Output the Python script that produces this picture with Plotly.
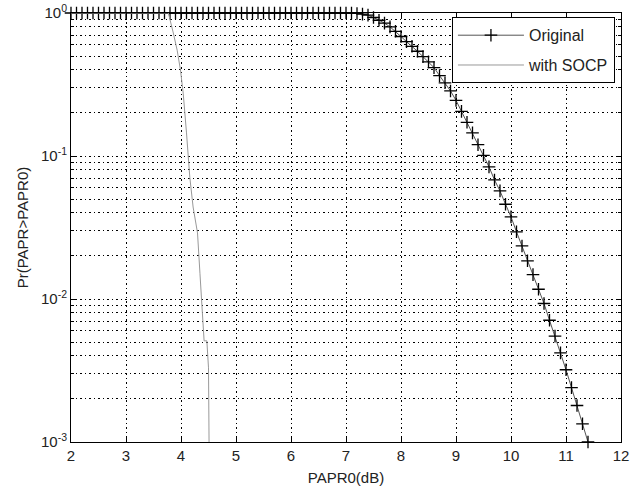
import plotly.graph_objects as go

# PAPR threshold values (dB) for the original OFDM signal (0.1 dB steps)
papr_orig = [2.0, 2.1, 2.2, 2.3, 2.4, 2.5, 2.6, 2.7, 2.8, 2.9,
             3.0, 3.1, 3.2, 3.3, 3.4, 3.5, 3.6, 3.7, 3.8, 3.9,
             4.0, 4.1, 4.2, 4.3, 4.4, 4.5, 4.6, 4.7, 4.8, 4.9,
             5.0, 5.1, 5.2, 5.3, 5.4, 5.5, 5.6, 5.7, 5.8, 5.9,
             6.0, 6.1, 6.2, 6.3, 6.4, 6.5, 6.6, 6.7, 6.8, 6.9,
             7.0, 7.1, 7.2, 7.3, 7.4, 7.5, 7.6, 7.7, 7.8, 7.9,
             8.0, 8.1, 8.2, 8.3, 8.4, 8.5, 8.6, 8.7, 8.8, 8.9,
             9.0, 9.1, 9.2, 9.3, 9.4, 9.5, 9.6, 9.7, 9.8, 9.9,
             10.0, 10.1, 10.2, 10.3, 10.4, 10.5, 10.6, 10.7, 10.8, 10.9,
             11.0, 11.1, 11.2, 11.3, 11.4]
ccdf_orig = [1.0, 1.0, 1.0, 1.0, 1.0, 1.0, 1.0, 1.0, 1.0, 1.0,
             1.0, 1.0, 1.0, 1.0, 1.0, 1.0, 1.0, 1.0, 1.0, 1.0,
             1.0, 1.0, 1.0, 1.0, 1.0, 1.0, 1.0, 1.0, 1.0, 1.0,
             1.0, 1.0, 1.0, 1.0, 1.0, 1.0, 1.0, 1.0, 1.0, 1.0,
             1.0, 1.0, 1.0, 1.0, 1.0, 1.0, 1.0, 1.0, 1.0, 1.0,
             1.0, 0.998, 0.993, 0.982, 0.967, 0.93, 0.89, 0.85, 0.80, 0.745,
             0.685, 0.63, 0.585, 0.54, 0.495, 0.455, 0.415, 0.365, 0.325, 0.285,
             0.245, 0.205, 0.172, 0.145, 0.12, 0.101, 0.084, 0.068, 0.057, 0.046,
             0.0375, 0.0295, 0.0235, 0.0185, 0.0148, 0.0117, 0.0093, 0.0071, 0.0055, 0.0042,
             0.0032, 0.0024, 0.0018, 0.00134, 0.001]

# PAPR threshold values (dB) after SOCP-based reduction
papr_socp = [2.0, 3.77, 3.86, 3.93, 3.99, 4.04, 4.10, 4.16, 4.22, 4.30,
             4.345, 4.38, 4.42, 4.47, 4.50, 4.51]
ccdf_socp = [1.0, 1.0, 0.725, 0.55, 0.40, 0.275, 0.145, 0.071, 0.044, 0.029,
             0.015, 0.0098, 0.0051, 0.0051, 0.0033, 0.001]

x_ticks = [2, 3, 4, 5, 6, 7, 8, 9, 10, 11, 12]
y_ticks = [1e-3, 1e-2, 1e-1, 1]
y_tick_text = ["10<sup>-3</sup>", "10<sup>-2</sup>", "10<sup>-1</sup>", "10<sup>0</sup>"]
y_minor = [m * 10.0 ** e for e in (-3, -2, -1) for m in range(2, 10)]

FONT = "Liberation Sans, Arial, sans-serif"
GRID_DASH = "1.5px,3px"
FS = 15

fig = go.Figure()
fig.add_trace(go.Scatter(
    x=papr_orig, y=ccdf_orig, name="Original", mode="lines+markers",
    legendgroup="orig",
    line=dict(color="#555555", width=1),
    marker=dict(symbol="cross-thin", size=9, color="black",
                line=dict(color="black", width=1.3)),
    cliponaxis=False,
))
fig.add_trace(go.Scatter(
    x=papr_socp, y=ccdf_socp, name="with SOCP", mode="lines",
    legendgroup="socp",
    line=dict(color="#999999", width=1),
    cliponaxis=False,
))

fig.update_layout(
    width=643, height=490,
    margin=dict(l=71, r=22, t=13, b=48),
    paper_bgcolor="white", plot_bgcolor="white",
    font=dict(family=FONT, size=FS, color="#222222"),
    showlegend=True,
    legend=dict(
        x=0.989, xanchor="right", y=0.99, yanchor="top",
        bgcolor="white", bordercolor="black", borderwidth=1,
        font=dict(family=FONT, size=16, color="#222222"),
        tracegroupgap=6, itemwidth=66,
    ),
    xaxis=dict(
        range=[2, 12], tickmode="array", tickvals=x_ticks,
        ticks="inside", ticklen=5, tickcolor="black",
        tickfont=dict(size=FS), automargin=False,
        showline=True, linecolor="black", linewidth=1, mirror="allticks",
        showgrid=True, gridcolor="black", griddash=GRID_DASH, gridwidth=1,
        zeroline=False,
        title=dict(text="PAPR0(dB)", standoff=9, font=dict(size=FS)),
    ),
    yaxis=dict(
        type="log", range=[-3, 0], tickmode="array",
        tickvals=y_ticks, ticktext=y_tick_text,
        ticks="inside", ticklen=5, tickcolor="black",
        tickfont=dict(size=FS), automargin=False,
        showline=True, linecolor="black", linewidth=1, mirror="allticks",
        showgrid=True, gridcolor="black", griddash=GRID_DASH, gridwidth=1,
        zeroline=False,
        minor=dict(tickmode="array", tickvals=y_minor, ticks="inside", ticklen=3,
                   tickcolor="black", showgrid=True, gridcolor="black",
                   griddash=GRID_DASH, gridwidth=1),
        title=dict(text="Pr(PAPR>PAPR0)", standoff=8, font=dict(size=FS)),
    ),
)

fig.write_html("out.html")
